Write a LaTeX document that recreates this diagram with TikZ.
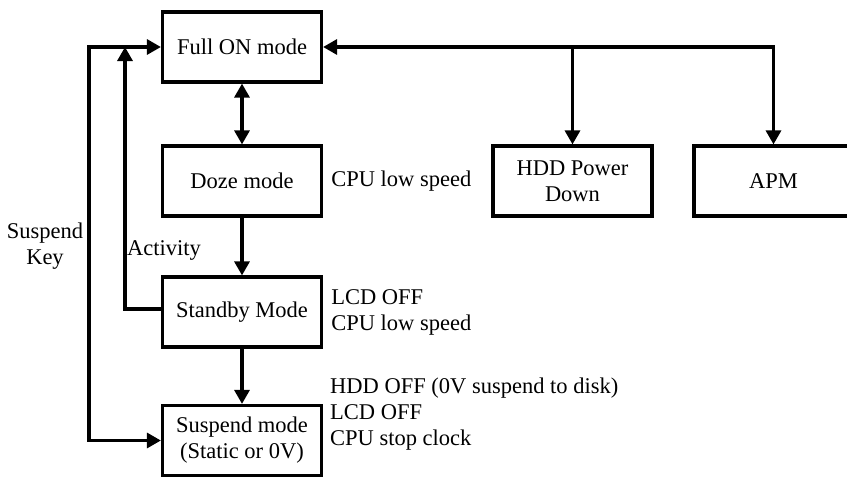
\documentclass[tikz,border=0pt]{standalone}
\usepackage{fontspec}
\setmainfont{Liberation Serif}
\usetikzlibrary{positioning, arrows.meta}

\begin{document}
\begin{tikzpicture}[x=1pt, y=-1pt, font=\fontsize{22.5}{26}\selectfont,
    >={Triangle[length=14pt, width=15pt]},
    mode/.style={draw, line width=3.2pt, minimum width=159pt, minimum height=70pt, align=center, inner sep=2pt},
    note/.style={anchor=west, align=left, inner sep=0pt},
    link/.style={line width=3.2pt, ->}]
    \useasboundingbox (0,0) rectangle (847,479);
    \node[mode] (full) at (242,47) {Full ON mode};
    \node[mode] (doze) at (242,181) {Doze mode};
    \node[mode] (standby) at (242,312) {Standby Mode};
    \node[mode] (suspend) at (242,440.5) {Suspend mode\\(Static or 0V)};
    \node[mode] (hdd) at (572.5,181) {HDD Power\\Down};
    \node[mode] (apm) at (773.5,181) {APM};

    \node[note] (dozenote) at ([xshift=8pt]doze.east) {CPU low speed};
    \node[note] (standbynote) at ([xshift=8pt]standby.east) {LCD OFF\\CPU low speed};
    \node[note] (suspendnote) at (330,414) {HDD OFF (0V suspend to disk)\\LCD OFF\\CPU stop clock};
    \node[align=center, inner sep=0pt] (keylabel) at (45,246) {Suspend\\Key};
    \node[anchor=west, inner sep=0pt] (actlabel) at (127,250) {Activity};

    \coordinate (keyx) at (89,0);
    \coordinate (actx) at (125,0);

    \draw[link, <->] (full) -- (doze);
    \draw[link] (doze) -- (standby);
    \draw[link] (standby) -- (suspend);
    \draw[link, <->] (full.east) -| (apm.north);
    \draw[link] (full.east -| hdd.north) -- (hdd.north);
    \draw[link, <->] (full.west) -- (full.west -| keyx) |- (suspend.west);
    \draw[link] ([yshift=3pt]standby.west) -| (full.west -| actx);
\end{tikzpicture}
\end{document}
